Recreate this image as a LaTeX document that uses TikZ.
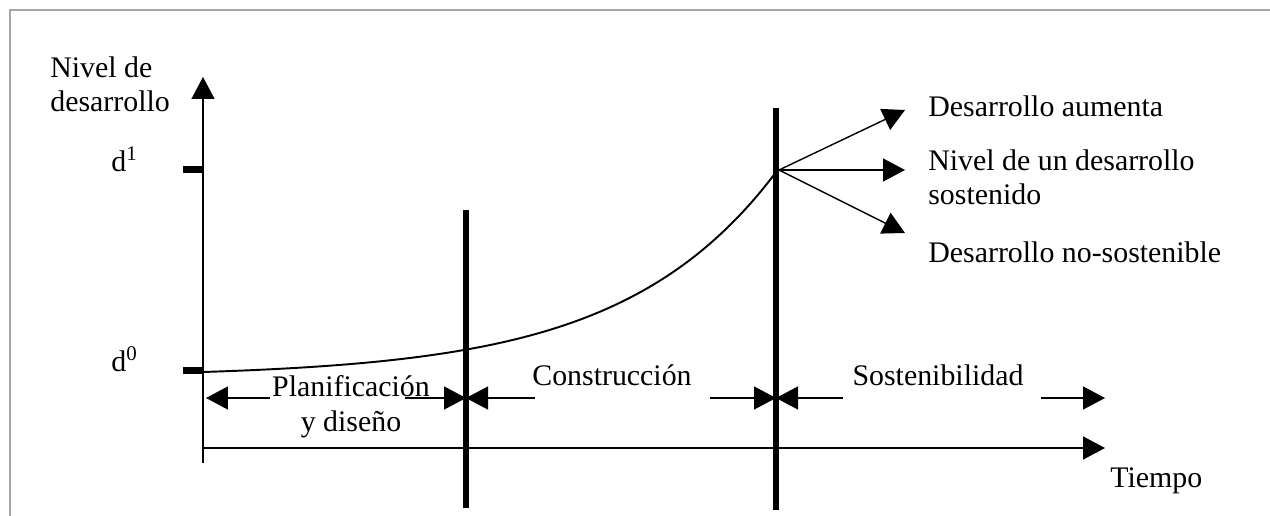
\documentclass[tikz,border=0pt]{standalone}
\usepackage{fontspec}
\setmainfont{Liberation Serif}
\usetikzlibrary{arrows.meta}
\begin{document}
\begin{tikzpicture}[x=0.02cm, y=-0.02cm, font=\fontsize{17}{19.5}\selectfont, samples=150,
  >={Triangle[length=0.44cm,width=0.46cm]}, thin line/.style={line width=0.8pt},
  lbl/.style={inner sep=0pt, anchor=base west}, bar/.style={line width=0.12cm}, tick/.style={line width=0.14cm}]
\useasboundingbox (0,0) rectangle (1270,516);
\draw[black!35, line width=0.8pt] (10,516)--(10,10)--(1270,10);
\coordinate (O) at (203,448);
\coordinate (br) at (779,170);
\draw[thin line, ->] (203,463)--(203,77);
\draw[thin line, ->] (O)--(1105,448);
\node[lbl, align=left] (ylab) at (50,112) {Nivel de\\desarrollo};
\node[lbl] (tlab) at (1110,487) {Tiempo};
\draw[tick] (183,170)--(203,170) (183,371)--(203,371);
\node[lbl] (d1) at (111,172) {d\textsuperscript{1}};
\node[lbl] (d0) at (111,372) {d\textsuperscript{0}};
\draw[line width=1.1pt] plot[domain=203:776] (\x,{372-4.94*(exp(0.0065*(\x-203))-1)});
\node[inner sep=0pt, anchor=base, align=center] (plan) at (351,431) {Planificación\\y diseño};
\node[inner sep=0pt, anchor=base] (cons) at (612,386) {Construcción};
\node[inner sep=0pt, anchor=base] (sost) at (938,386) {Sostenibilidad};
\draw[thin line, ->] (270,398)--(206,398);
\draw[thin line, ->] (405,398)--(466,398);
\draw[thin line, ->] (535,398)--(466,398);
\draw[thin line, ->] (710,398)--(776,398);
\draw[thin line, ->] (843,398)--(776,398);
\draw[thin line, ->] (1041,398)--(1105,398);
\draw[bar] (466,210)--(466,508);
\draw[bar] (776,108)--(776,510);
\draw[thin line, ->] (br)--(905,110);
\draw[thin line, ->] (br)--(905,170);
\draw[thin line, ->] (br)--(905,233);
\node[lbl] (up) at (928,117) {Desarrollo aumenta};
\node[lbl, align=left] (mid) at (928,205) {Nivel de un desarrollo\\sostenido};
\node[lbl] (down) at (928,263) {Desarrollo no-sostenible};
\end{tikzpicture}
\end{document}
